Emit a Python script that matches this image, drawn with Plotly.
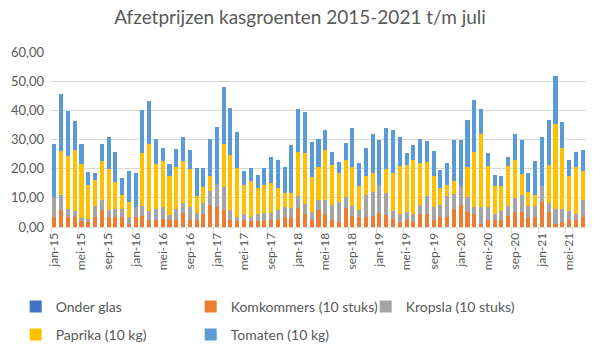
import plotly.graph_objects as go

months = ["jan", "feb", "mrt", "apr", "mei", "jun", "jul", "aug", "sep", "okt", "nov", "dec"]
years = ["15", "16", "17", "18", "19", "20", "21"]
categories = [f"{m}-{y}" for y in years for m in months][:79]
tick_labels = categories[::4]

onder_glas = [0] * 79
komkommers = [
    3.6, 5.9, 3.4, 3.4, 2.0, 1.7, 3.6, 5.9, 3.6, 3.4, 3.6, 1.0,
    3.6, 3.75, 2.3, 2.3, 2.8, 2.5, 2.5, 4.8, 2.5, 2.5, 4.3, 7.4,
    7.0, 5.7, 2.3, 2.0, 2.3, 2.0, 2.0, 2.0, 2.3, 2.5, 3.6, 3.2,
    6.6, 4.5, 2.5, 5.7, 4.5, 2.3, 1.7, 6.6, 3.75, 3.6, 3.6, 3.75,
    4.9, 4.2, 2.8, 1.7, 2.5, 1.7, 4.3, 4.3, 2.3, 3.6, 3.6, 6.25,
    7.7, 5.1, 4.3, 0.9, 2.3, 2.3, 2.3, 3.75, 5.1, 5.1, 3.1, 3.4,
    8.5, 5.1, 1.1, 1.7, 2.5, 2.5, 3.6,
]
kropsla = [
    6.8, 5.2, 2.85, 2.1, 1.0, 1.1, 3.6, 3.2, 2.1, 2.85, 2.6, 2.6,
    3.2, 3.4, 3.2, 4.0, 4.2, 1.5, 3.75, 3.5, 4.3, 2.3, 3.9, 5.1,
    7.8, 7.9, 3.4, 1.6, 2.0, 1.6, 2.5, 2.8, 2.5, 3.4, 3.2, 3.3,
    4.2, 3.5, 2.6, 3.6, 4.8, 5.4, 6.8, 3.6, 3.45, 2.1, 7.5, 8.15,
    9.6, 7.5, 2.7, 2.6, 2.6, 2.6, 3.4, 6.2, 4.5, 4.1, 6.9, 5.15,
    6.3, 5.1, 2.5, 5.9, 4.5, 2.2, 3.2, 3.45, 4.8, 6.0, 4.1, 3.8,
    5.4, 3.2, 5.15, 4.55, 3.0, 1.8, 5.7,
]
paprika = [
    0, 15.0, 18.2, 20.9, 18.6, 11.7, 8.9, 13.6, 14.2, 9.1, 4.9, 4.9,
    0, 18.1, 22.9, 15.3, 15.5, 13.6, 14.2, 14.4, 13.1, 5.7, 5.4, 5.1,
    0, 15.0, 19.1, 16.5, 10.2, 12.3, 8.8, 9.7, 10.2, 7.4, 4.8, 5.1,
    15.0, 17.3, 11.9, 11.4, 17.2, 13.7, 10.1, 12.9, 13.5, 8.2, 6.5, 6.5,
    0, 8.2, 12.9, 16.7, 16.3, 18.6, 14.2, 11.9, 10.8, 5.6, 4.0, 4.3,
    0, 10.3, 19.0, 25.0, 14.2, 9.7, 8.5, 13.8, 13.2, 7.1, 4.7, 3.9,
    0, 13.1, 29.0, 20.8, 12.1, 16.4, 10.0,
]
tomaten = [
    18.2, 19.6, 15.4, 10.0, 7.0, 4.5, 2.4, 5.9, 10.8, 10.5, 5.6, 10.8,
    11.7, 15.0, 14.8, 8.5, 4.5, 4.0, 6.2, 8.0, 6.5, 9.7, 6.6, 12.7,
    19.5, 19.4, 16.1, 12.5, 4.8, 4.2, 4.7, 5.6, 8.9, 9.8, 8.9, 16.5,
    14.8, 14.2, 12.2, 9.4, 6.7, 4.4, 3.8, 5.7, 13.1, 8.0, 9.4, 13.4,
    15.3, 13.9, 14.8, 10.0, 3.9, 5.1, 8.4, 7.1, 8.5, 6.4, 7.4, 14.1,
    15.8, 16.1, 17.7, 8.8, 4.3, 3.8, 3.6, 3.1, 8.7, 11.6, 6.6, 11.6,
    17.1, 15.2, 16.5, 9.1, 5.5, 5.1, 7.2,
]

series = [
    ("Onder glas", onder_glas, "#4472C4", "legend"),
    ("Komkommers (10 stuks)", komkommers, "#ED7D31", "legend"),
    ("Kropsla (10 stuks)", kropsla, "#A5A5A5", "legend"),
    ("Paprika (10 kg)", paprika, "#FFC000", "legend2"),
    ("Tomaten (10 kg)", tomaten, "#5B9BD5", "legend2"),
]

FONT = "Lato"
GREY = "#595959"

fig = go.Figure()
for name, vals, color, lg in series:
    fig.add_trace(go.Bar(
        x=categories, y=vals, name=name, marker_color=color,
        marker_line_width=0, legend=lg,
    ))

legend_common = dict(
    orientation="h", xanchor="left", yanchor="middle",
    font=dict(family=FONT, size=14, color=GREY),
    entrywidth=130, itemwidth=30, bgcolor="rgba(0,0,0,0)",
    traceorder="normal",
)

fig.update_layout(
    width=600, height=350,
    margin=dict(l=51, r=14, t=52, b=123, autoexpand=False),
    barmode="stack", bargap=0.4,
    plot_bgcolor="white", paper_bgcolor="white",
    separators=", ",
    font=dict(family=FONT, color=GREY),
    title=dict(text="Afzetprijzen kasgroenten 2015-2021 t/m juli",
               x=0.5, xanchor="center", y=0.95, yanchor="middle",
               font=dict(family=FONT, size=19, color=GREY)),
    xaxis=dict(
        type="category", tickvals=tick_labels, ticktext=tick_labels,
        tickangle=-90, tickfont=dict(family=FONT, size=12, color=GREY),
        showline=True, linecolor="#D9D9D9", linewidth=1,
        ticks="outside", tickson="boundaries", ticklen=5, tickcolor="#D9D9D9",
        showgrid=False,
    ),
    yaxis=dict(
        range=[0, 60], dtick=10, tickformat=".2f",
        tickfont=dict(family=FONT, size=13, color=GREY),
        gridcolor="#D9D9D9", gridwidth=1, zeroline=False, showline=False,
        ticks="", ticklabelstandoff=6,
    ),
    legend=dict(x=-0.066, y=-0.457, **legend_common),
    legend2=dict(x=-0.066, y=-0.617, **legend_common),
)

fig.write_html("out.html")
